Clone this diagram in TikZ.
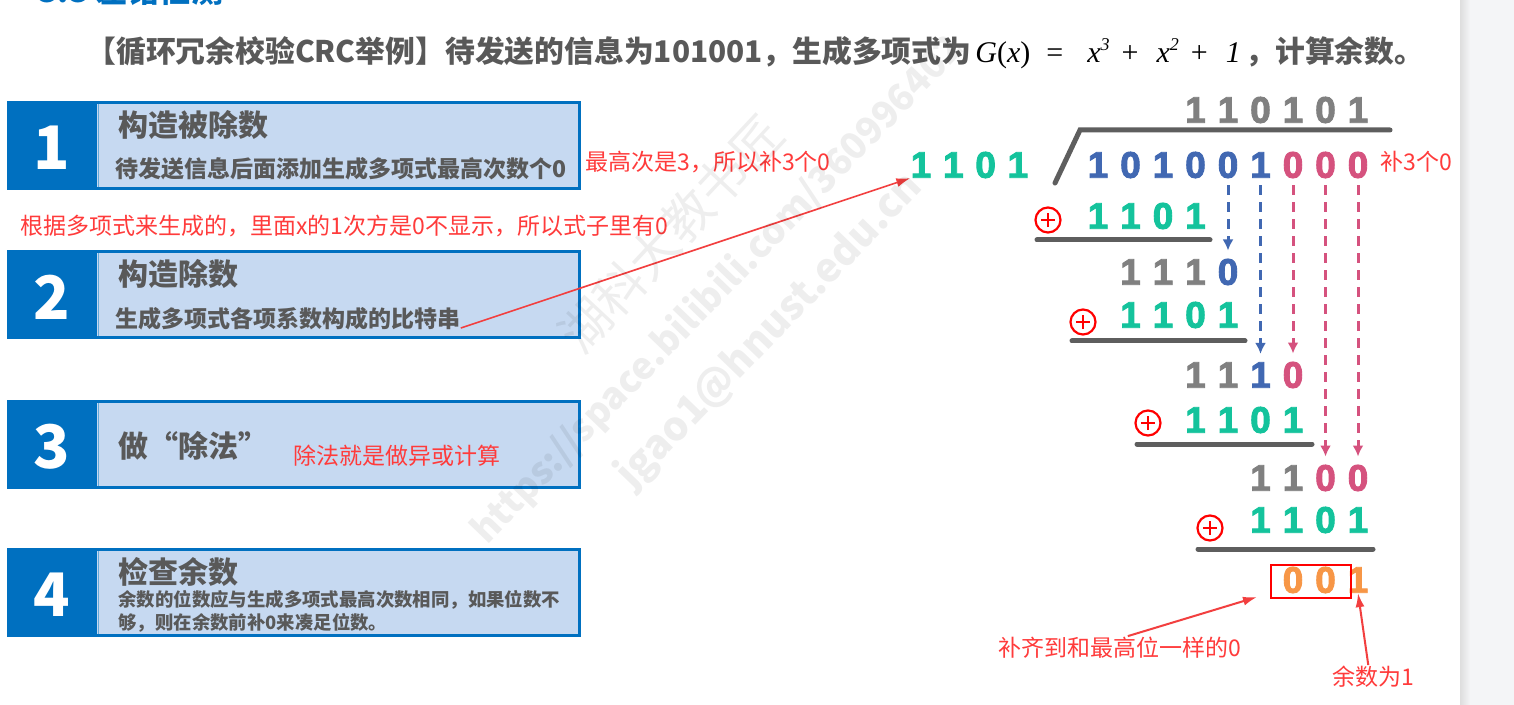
\documentclass[tikz,border=0pt]{standalone}
\usepackage{fontspec}
\setmainfont{Noto Sans CJK SC}
\newfontfamily\dig[FakeBold=2.5]{Liberation Sans}
\newfontfamily\tms{Liberation Serif}
\usetikzlibrary{arrows.meta,calc}
\definecolor{boxblue}{HTML}{0070C0}
\definecolor{boxfill}{HTML}{C6D9F1}
\definecolor{txtgrey}{HTML}{595959}
\definecolor{notered}{HTML}{FF3B3B}
\definecolor{arrred}{HTML}{F23F3F}
\definecolor{gry}{HTML}{808080}
\definecolor{blu}{HTML}{4168B2}
\definecolor{pnk}{HTML}{D5527E}
\definecolor{grn}{HTML}{14C39C}
\definecolor{org}{HTML}{F79646}
\definecolor{lineg}{HTML}{5E5E5E}
\definecolor{panel}{HTML}{F4F5F7}
\newcommand\drow[4]{%
  \foreach \dd/\cc [count=\kk from #3] in {#4}
    {\node[digit,text=\cc] (#1\kk) at ({1098+32.5*\kk},#2) {\dd};}}
\begin{document}
\begin{tikzpicture}[x=0.5pt,y=-0.5pt,
  digit/.style={inner sep=0pt,font=\dig\bfseries\fontsize{18.5pt}{18.5pt}\selectfont},
  numtxt/.style={text=white,inner sep=0pt,font=\bfseries\fontsize{30pt}{30pt}\selectfont},
  head/.style={anchor=base west,inner sep=0pt,text=txtgrey,font=\bfseries\fontsize{15pt}{15pt}\selectfont},
  sub/.style={anchor=base west,inner sep=0pt,text=txtgrey,font=\bfseries\fontsize{11.5pt}{11.5pt}\selectfont},
  small/.style={anchor=base west,inner sep=0pt,text=txtgrey,font=\bfseries\fontsize{9.2pt}{9.2pt}\selectfont},
  note/.style={anchor=base west,inner sep=0pt,text=notered,font=\fontsize{11.5pt}{11.5pt}\selectfont},
  barline/.style={draw=lineg,line width=2.5pt,line cap=round},
  oplus/.style={circle,draw=red,line width=1.1pt,minimum size=12.5pt,inner sep=0pt,
    path picture={\draw[red,line width=1.2pt]
      ([xshift=-3.6pt]path picture bounding box.center) -- ([xshift=3.6pt]path picture bounding box.center)
      ([yshift=-3.6pt]path picture bounding box.center) -- ([yshift=3.6pt]path picture bounding box.center);}},
  dasharr/.style={line width=1.5pt,dash pattern=on 5pt off 3.5pt,-{Latex[length=5.5pt,width=5.5pt]},shorten <=3.5pt,shorten >=4pt},
  redarr/.style={draw=arrred,line width=1pt,-{Latex[length=7pt,width=4.5pt]}},
  wm/.style={text=black,opacity=0.065,inner sep=0pt},
]
\useasboundingbox (0,0) rectangle (1514,705);
\clip (0,0) rectangle (1514,705);
\fill[white] (0,0) rectangle (1514,705);
\fill[panel] (1460,0) rectangle (1514,705);
\shade[left color=black!13,right color=panel] (1460,0) rectangle (1470,705);

% clipped heading
\node[anchor=base west,inner sep=0pt,text=boxblue,font=\bfseries\fontsize{16pt}{16pt}\selectfont] (sec) at (38,3) {3.3 差错检测};

% title
\node[anchor=base west,inner sep=0pt,text=txtgrey,font=\bfseries\fontsize{14.9pt}{14.9pt}\selectfont] (t1) at (86,63) {【循环冗余校验CRC举例】待发送的信息为101001，生成多项式为};
\node[anchor=base west,inner sep=0pt,text=black,font=\tms\fontsize{15pt}{15pt}\selectfont] (gx) at (975,63)
 {\itshape G\upshape(\itshape x\upshape)\hspace{8pt}=\hspace{12pt}\itshape x\raisebox{6pt}{\fontsize{9pt}{9pt}\selectfont 3}\hspace{6pt}\upshape+\hspace{9pt}\itshape x\raisebox{6pt}{\fontsize{9pt}{9pt}\selectfont 2}\hspace{6pt}\upshape+\hspace{9pt}\itshape 1};
\node[anchor=base west,inner sep=0pt,text=txtgrey,font=\bfseries\fontsize{14.9pt}{14.9pt}\selectfont] (t2) at (1245,63) {，计算余数。};

% step boxes
\foreach \t/\n in {101/1,250/2,400/3,548/4}{
  \fill[boxfill] (97,\t) rectangle (581,\t+89);
  \draw[boxblue,line width=1.5pt] (8.5,\t+1.5) rectangle (579.5,\t+87.5);
  \fill[boxblue] (7,\t) rectangle (97,\t+89);
  \draw[boxblue!60!white,line width=0.5pt] (98,\t+3) -- (98,\t+86);
  \node[numtxt] (n\n) at (52,\t+47) {\n};
}
\node[head] (h1) at (118,137) {构造被除数};
\node[sub] (s1) at (115,178) {待发送信息后面添加生成多项式最高次数个0};
\node[head] (h2) at (118,286) {构造除数};
\node[sub] (s2) at (115,328) {生成多项式各项系数构成的比特串};
\node[head] (h3) at (118,457) {做“除法”};
\node[head] (h4) at (118,583) {检查余数};
\node[small] (s4a) at (118,606) {余数的位数应与生成多项式最高次数相同，如果位数不};
\node[small] (s4b) at (118,629) {够，则在余数前补0来凑足位数。};

% red notes
\node[note] (an1) at (585,171) {最高次是3，所以补3个0};
\node[note] (an2) at (20,235) {根据多项式来生成的，里面x的1次方是0不显示，所以式子里有0};
\node[note] (an3) at (293,464) {除法就是做异或计算};
\node[note] (an4) at (1380,171) {补3个0};
\node[note] (an5) at (998,656) {补齐到和最高位一样的0};
\node[note] (an6) at (1332,685) {余数为1};

% division
\foreach \dd [count=\kk from 0] in {1,1,0,1}
  {\node[digit,text=grn] (v\kk) at ({921+32.3*\kk},165) {\dd};}
\drow{q}{110}{3}{1/gry,1/gry,0/gry,1/gry,0/gry,1/gry}
\drow{d}{165}{0}{1/blu,0/blu,1/blu,0/blu,0/blu,1/blu,0/pnk,0/pnk,0/pnk}
\drow{a}{216}{0}{1/grn,1/grn,0/grn,1/grn}
\drow{b}{272}{1}{1/gry,1/gry,1/gry,0/blu}
\drow{c}{315}{1}{1/grn,1/grn,0/grn,1/grn}
\drow{r}{375}{3}{1/gry,1/gry,1/blu,0/pnk}
\drow{e}{420}{3}{1/grn,1/grn,0/grn,1/grn}
\drow{g}{478}{5}{1/gry,1/gry,0/pnk,0/pnk}
\drow{f}{520}{5}{1/grn,1/grn,0/grn,1/grn}
\drow{m}{580}{6}{0/org,0/org,1/org}

\draw[barline] (1055,183) -- (1080,130) -- (1390,130);
\node[oplus] (p1) at (1048,220) {};
\draw[barline] (1037,240) -- (1210,240);
\node[oplus] (p2) at (1083,322) {};
\draw[barline] (1072,341) -- (1245,341);
\node[oplus] (p3) at (1148,423) {};
\draw[barline] (1137,444) -- (1312,444);
\node[oplus] (p4) at (1210,528) {};
\draw[barline] (1198,549) -- (1373,549);

\node[draw=red,line width=1.25pt,minimum width=40pt,minimum height=16.5pt,inner sep=0pt] (rem) at (1311,581.5) {};

% dashed bring-down arrows
\draw[dasharr,blu] (d4.south) -- (b4.north);
\draw[dasharr,blu] (d5.south) -- (r5.north);
\draw[dasharr,pnk] (d6.south) -- (r6.north);
\draw[dasharr,pnk] (d7.south) -- (g7.north);
\draw[dasharr,pnk] (d8.south) -- (g8.north);

% red annotation arrows
\draw[redarr,line width=0.8pt] (s2.base east) -- (v0.south west);
\coordinate (c00) at (1257,597);
\draw[redarr] ($(an5.north)+(8,0)$) -- (c00);
\draw[redarr] ($(an6.north)+(-5,0)$) -- (m8.south);

% faint watermark
\node[wm,rotate=47,font=\fontsize{25pt}{25pt}\selectfont] (wm1) at (671,234) {湖科大教书匠};
\node[wm,rotate=46,font=\bfseries\fontsize{18.5pt}{18.5pt}\selectfont] (wm2) at (718,290) {https://space.bilibili.com/360996402};
\node[wm,rotate=46,font=\bfseries\fontsize{20pt}{20pt}\selectfont] (wm3) at (770,331) {jgao1@hnust.edu.cn};
\end{tikzpicture}
\end{document}
